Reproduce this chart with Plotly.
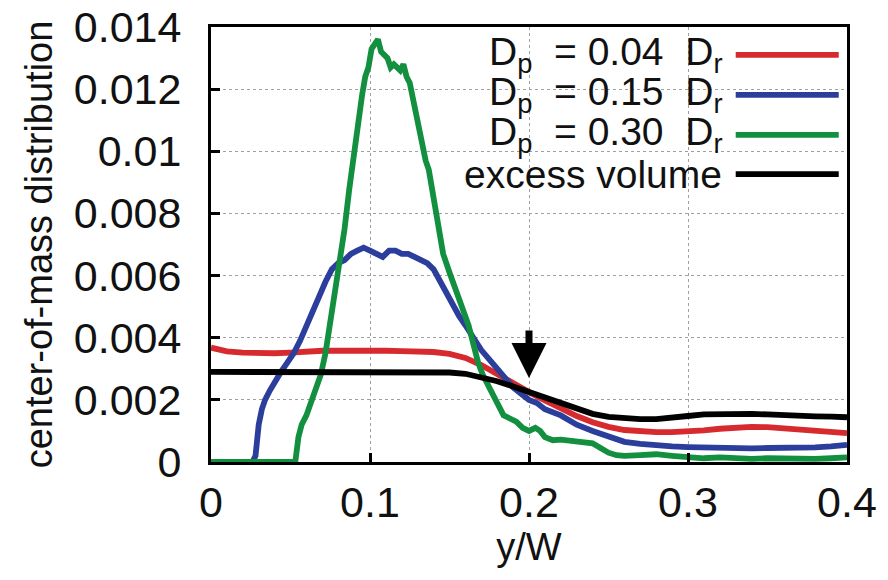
import plotly.graph_objects as go

# Center-of-mass distribution across the channel for three particle sizes,
# compared with the excess-volume profile.

x_red = [0.00, 0.01, 0.02, 0.03, 0.04, 0.05, 0.06, 0.07, 0.08, 0.09, 0.10,
         0.11, 0.12, 0.13, 0.14, 0.15, 0.16, 0.17, 0.18, 0.19, 0.20, 0.21,
         0.22, 0.23, 0.24, 0.25, 0.26, 0.27, 0.28, 0.29, 0.30, 0.31, 0.32,
         0.33, 0.34, 0.35, 0.36, 0.37, 0.38, 0.39, 0.40]
y_red = [0.00368, 0.00356, 0.00352, 0.00350, 0.00350, 0.00352, 0.00356,
         0.00358, 0.00358, 0.00359, 0.00360, 0.00358, 0.00357, 0.00356,
         0.00354, 0.00348, 0.00335, 0.00312, 0.00282, 0.00252, 0.00225,
         0.00198, 0.00172, 0.00148, 0.00128, 0.00113, 0.00103, 0.00098,
         0.00096, 0.00096, 0.00098, 0.00102, 0.00107, 0.00111, 0.00113,
         0.00112, 0.00108, 0.00104, 0.00100, 0.00096, 0.00093]

x_blue = [0.000, 0.026, 0.028, 0.030, 0.032, 0.034, 0.037, 0.040, 0.044,
          0.048, 0.052, 0.056, 0.060, 0.064, 0.068, 0.072, 0.076, 0.080,
          0.084, 0.088, 0.092, 0.096, 0.100, 0.104, 0.108, 0.112, 0.116,
          0.120, 0.124, 0.128, 0.132, 0.136, 0.140, 0.144, 0.148, 0.152,
          0.156, 0.160, 0.165, 0.170, 0.175, 0.180, 0.185, 0.190, 0.195,
          0.200, 0.205, 0.210, 0.220, 0.230, 0.240, 0.250, 0.260, 0.270,
          0.280, 0.290, 0.300, 0.310, 0.320, 0.330, 0.340, 0.350, 0.360,
          0.370, 0.380, 0.390, 0.400]
y_blue = [0.0, 0.0, 0.0002, 0.0012, 0.0017, 0.0020, 0.0023, 0.0026, 0.0029,
          0.0032, 0.0035, 0.0039, 0.0044, 0.0049, 0.0054, 0.0058, 0.0062,
          0.0064, 0.0065, 0.0067, 0.0068, 0.0069, 0.0068, 0.0067, 0.0066,
          0.0068, 0.0068, 0.0067, 0.0067, 0.0066, 0.0065, 0.0064, 0.0062,
          0.0058, 0.0054, 0.0050, 0.0047, 0.0044, 0.0040, 0.0036, 0.0033,
          0.0030, 0.0027, 0.0024, 0.0022, 0.0020, 0.0019, 0.0017, 0.0015,
          0.0012, 0.0010, 0.0008, 0.00065, 0.00058, 0.00052, 0.00050,
          0.00048, 0.00046, 0.00046, 0.00045, 0.00044, 0.00045, 0.00045,
          0.00046, 0.00047, 0.00050, 0.00055]

x_green = [0.000, 0.053, 0.055, 0.057, 0.060, 0.063, 0.066, 0.069, 0.072,
           0.075, 0.078, 0.081, 0.084, 0.087, 0.090, 0.093, 0.095, 0.097,
           0.099, 0.101, 0.103, 0.105, 0.107, 0.109, 0.111, 0.113, 0.115,
           0.117, 0.119, 0.121, 0.123, 0.125, 0.127, 0.129, 0.131, 0.133,
           0.135, 0.137, 0.140, 0.143, 0.146, 0.150, 0.154, 0.158, 0.162,
           0.165, 0.168, 0.171, 0.174, 0.177, 0.180, 0.184, 0.188, 0.192,
           0.196, 0.200, 0.204, 0.207, 0.210, 0.215, 0.220, 0.225, 0.230,
           0.235, 0.240, 0.245, 0.250, 0.255, 0.260, 0.270, 0.280, 0.290,
           0.300, 0.310, 0.320, 0.330, 0.340, 0.350, 0.360, 0.370, 0.380,
           0.390, 0.400]
y_green = [0.0, 0.0, 0.0008, 0.0012, 0.0015, 0.0019, 0.0023, 0.0028, 0.0035,
           0.0045, 0.0053, 0.0064, 0.0075, 0.0088, 0.0100, 0.0111, 0.0118,
           0.0124, 0.0127, 0.0133, 0.0135, 0.0136, 0.0132, 0.0131, 0.0130,
           0.0127, 0.0128, 0.0127, 0.0126, 0.0128, 0.0124, 0.0122, 0.0117,
           0.0112, 0.0106, 0.0100, 0.0097, 0.0094, 0.0085, 0.0074, 0.0067,
           0.0061, 0.0055, 0.0049, 0.0044, 0.0038, 0.0032, 0.0028, 0.0025,
           0.0021, 0.0018, 0.0015, 0.0014, 0.0013, 0.0011, 0.0010, 0.0011,
           0.0010, 0.0008, 0.0007, 0.00072, 0.0007, 0.00065, 0.00066,
           0.0006, 0.00045, 0.0003, 0.00022, 0.0002, 0.00022, 0.00025,
           0.0002, 0.00015, 0.00012, 0.00015, 0.00012, 0.0001, 0.00012,
           0.0001, 0.00012, 0.0001, 0.00012, 0.00015]

x_black = [0.00, 0.02, 0.04, 0.06, 0.08, 0.10, 0.12, 0.14, 0.15, 0.16, 0.17,
           0.18, 0.19, 0.20, 0.21, 0.22, 0.23, 0.24, 0.25, 0.26, 0.27, 0.28,
           0.29, 0.30, 0.31, 0.32, 0.33, 0.34, 0.35, 0.36, 0.37, 0.38, 0.39,
           0.40]
y_black = [0.00290, 0.00290, 0.00290, 0.00290, 0.00290, 0.00290, 0.00290,
           0.00289, 0.00288, 0.00284, 0.00274, 0.00260, 0.00243, 0.00225,
           0.00207, 0.00188, 0.00170, 0.00155, 0.00145, 0.00140, 0.00138,
           0.00138, 0.00141, 0.00148, 0.00153, 0.00155, 0.00155, 0.00155,
           0.00153, 0.00150, 0.00148, 0.00147, 0.00146, 0.00144]

series_labels = ["D<sub>p</sub>&nbsp; = 0.04&nbsp; D<sub>r</sub>",
                 "D<sub>p</sub>&nbsp; = 0.15&nbsp; D<sub>r</sub>",
                 "D<sub>p</sub>&nbsp; = 0.30&nbsp; D<sub>r</sub>",
                 "excess volume"]
series_colors = ["#d62a2f", "#2c3e9c", "#13903f", "#000000"]

x_ticks = [0, 0.1, 0.2, 0.3, 0.4]
x_tick_text = ["0", "0.1", "0.2", "0.3", "0.4"]
y_ticks = [0, 0.002, 0.004, 0.006, 0.008, 0.01, 0.012, 0.014]
y_tick_text = ["0", "0.002", "0.004", "0.006", "0.008", "0.01", "0.012", "0.014"]

arrow_x = 0.2
arrow_tip = 0.0027
arrow_tail = 0.00428

FONT = "Liberation Sans, Arial, Helvetica, sans-serif"

fig = go.Figure()
for xs, ys, name, col in zip([x_red, x_blue, x_green, x_black],
                             [y_red, y_blue, y_green, y_black],
                             series_labels, series_colors):
    fig.add_trace(go.Scatter(x=xs, y=ys, mode="lines", name=name,
                             line=dict(color=col, width=5.8),
                             showlegend=False))

# opaque key area over the grid
fig.add_shape(type="rect", xref="paper", yref="paper",
              x0=0.302, x1=0.996, y0=0.621, y1=0.979,
              fillcolor="white", line=dict(width=0), layer="between")

# key: right-aligned labels with line samples to their right
key_rows = [0.936, 0.844, 0.752, 0.662]
for label, col, yy in zip(series_labels, series_colors, key_rows):
    fig.add_annotation(xref="paper", yref="paper", x=0.807, y=yy,
                       text=label, showarrow=False, xanchor="right",
                       yanchor="middle",
                       font=dict(family=FONT, size=39, color="#111"))
    fig.add_shape(type="line", xref="paper", yref="paper",
                  x0=0.825, x1=0.987, y0=yy, y1=yy,
                  line=dict(color=col, width=5.8))

# marker arrow at y/W = 0.2
fig.add_annotation(x=arrow_x, y=arrow_tip, ax=arrow_x, ay=arrow_tail,
                   xref="x", yref="y", axref="x", ayref="y",
                   text="", showarrow=True, arrowhead=2, arrowsize=1.0,
                   arrowwidth=7, arrowcolor="black")

axis_common = dict(showline=True, linecolor="black", linewidth=3,
                   mirror=True, ticks="inside", tickcolor="black",
                   tickwidth=3, ticklen=9, showgrid=True,
                   gridcolor="#a0a0a0", gridwidth=1.3, griddash="dot",
                   zeroline=False, automargin=False,
                   tickfont=dict(family=FONT, size=43, color="#111"),
                   title_font=dict(family=FONT, size=38, color="#111"))

fig.update_xaxes(range=[0, 0.4], tickvals=x_ticks, ticktext=x_tick_text,
                 title_text="y/W", title_standoff=8, **axis_common)
fig.update_yaxes(range=[0, 0.014], tickvals=y_ticks, ticktext=y_tick_text,
                 title_text="center-of-mass distribution", title_standoff=10,
                 ticklabelstandoff=18, **axis_common)

fig.update_layout(width=888, height=580,
                  margin=dict(l=211, r=41, t=27, b=118),
                  plot_bgcolor="white", paper_bgcolor="white",
                  showlegend=False)

fig.write_html("out.html")
